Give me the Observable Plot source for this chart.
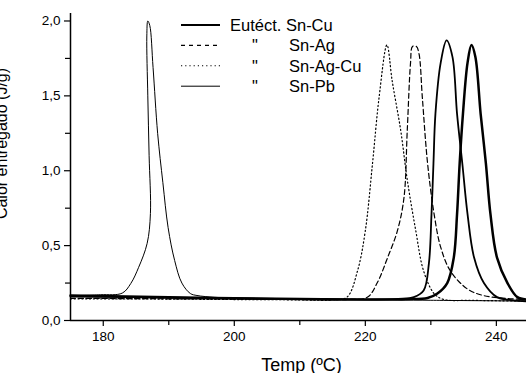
<!DOCTYPE html>
<html><head><meta charset="utf-8">
<script src="https://cdn.jsdelivr.net/npm/d3@7"></script>
<script src="https://cdn.jsdelivr.net/npm/@observablehq/plot@0.6"></script>
<style>body{margin:0;background:#fff} svg{display:block}</style>
</head><body><div id="chart"></div>
<script>
const xTicksMajor = [180, 200, 220, 240];
const xTicksMinor = [190, 210, 230];
const yTicksMajor = [0, 0.5, 1, 1.5, 2];
const yTicksMinor = [0.25, 0.75, 1.25, 1.75];

// Eutéct. Sn-Cu (thick)
const snCuT = [175, 190, 200, 210, 220, 226.4, 229.5, 231, 232.5, 233.5, 234, 234.4, 234.9, 235.6, 236.2, 236.8, 237.6, 238.4, 239.1, 240.1, 241.7, 243.2, 244.6];
const snCuV = [0.167, 0.155, 0.148, 0.143, 0.14, 0.142, 0.15, 0.18, 0.25, 0.42, 0.71, 1.05, 1.38, 1.72, 1.84, 1.76, 1.38, 1.05, 0.71, 0.42, 0.25, 0.156, 0.14];
// second solid curve (medium)
const snCu2T = [175, 190, 200, 210, 220, 225, 227.4, 228.9, 229.7, 230.1, 230.4, 230.7, 231.5, 232.4, 233.3, 234.0, 234.8, 235.6, 236.6, 238.1, 240.1, 242.6, 244.6];
const snCu2V = [0.16, 0.152, 0.147, 0.143, 0.14, 0.145, 0.156, 0.2, 0.38, 0.71, 1.05, 1.38, 1.72, 1.87, 1.76, 1.38, 1.05, 0.71, 0.42, 0.25, 0.156, 0.135, 0.128];
// Sn-Ag (dashed)
const snAgT = [175, 190, 200, 210, 217, 220.3, 221.8, 223.4, 224.9, 225.9, 226.4, 226.9, 227.2, 227.8, 228.2, 228.7, 229.5, 230.5, 231.5, 233, 235.6, 238, 241.7, 244.6];
const snAgV = [0.148, 0.145, 0.143, 0.14, 0.14, 0.155, 0.25, 0.42, 0.6, 0.82, 1.27, 1.72, 1.83, 1.83, 1.78, 1.49, 1.05, 0.71, 0.49, 0.33, 0.21, 0.167, 0.147, 0.14];
// Sn-Ag-Cu (dotted)
const snAgCuT = [175, 190, 200, 210, 215, 217.2, 218.8, 220.0, 221.1, 222.1, 223.3, 224.1, 225.4, 226.4, 227.7, 228.9, 230.5, 232.0, 236, 240, 244.6];
const snAgCuV = [0.145, 0.143, 0.14, 0.138, 0.137, 0.156, 0.33, 0.6, 1.05, 1.49, 1.84, 1.6, 1.27, 0.94, 0.6, 0.33, 0.18, 0.14, 0.135, 0.132, 0.13];
// Sn-Pb (thin)
const snPbT = [175, 179.6, 182.9, 184.2, 185.4, 186.7, 187.2, 187.0, 186.8, 186.65, 186.8, 187.1, 187.6, 188.3, 189.1, 189.9, 190.9, 192.0, 193.3, 194.3, 197, 200, 210, 220, 230, 244.6];
const snPbV = [0.165, 0.172, 0.183, 0.247, 0.355, 0.515, 0.715, 1.1, 1.5, 1.9, 2.0, 1.97, 1.69, 1.25, 0.92, 0.62, 0.40, 0.25, 0.18, 0.167, 0.155, 0.15, 0.145, 0.14, 0.135, 0.13];

const legendLabels = ["Eutéct. Sn-Cu", "Sn-Ag", "Sn-Ag-Cu", "Sn-Pb"];

const toRows = (T, V) => T.map((t, i) => ({t, v: V[i]}));
const font = "'Liberation Sans', Arial, Helvetica, sans-serif";

const svg = Plot.plot({
  width: 526, height: 373,
  marginLeft: 70, marginRight: 0, marginTop: 13, marginBottom: 53,
  x: {domain: [175, 244.6]},
  y: {domain: [0, 2.05]},
  style: {fontFamily: font, fontSize: "13.5px", color: "black", background: "white"},
  marks: [
    Plot.line(toRows(snPbT, snPbV), {x: "t", y: "v", stroke: "black", strokeWidth: 1, curve: "catmull-rom"}),
    Plot.line(toRows(snAgCuT, snAgCuV), {x: "t", y: "v", stroke: "black", strokeWidth: 1.2, strokeDasharray: "1.2,2.6", curve: "catmull-rom"}),
    Plot.line(toRows(snAgT, snAgV), {x: "t", y: "v", stroke: "black", strokeWidth: 1.2, strokeDasharray: "5,3", curve: "catmull-rom"}),
    Plot.line(toRows(snCu2T, snCu2V), {x: "t", y: "v", stroke: "black", strokeWidth: 1.8, curve: "catmull-rom"}),
    Plot.line(toRows(snCuT, snCuV), {x: "t", y: "v", stroke: "black", strokeWidth: 2.5, curve: "catmull-rom"}),
    Plot.axisX(xTicksMajor, {tickSize: 6, tickPadding: 5, tickFormat: d => String(d), label: null, strokeWidth: 1.2, fontSize: 13.5}),
    Plot.axisX(xTicksMinor, {tickSize: 5, tickFormat: () => "", label: null, strokeWidth: 1.2}),
    Plot.axisY(yTicksMajor, {tickSize: 6, tickPadding: 4, tickFormat: d => d.toFixed(1).replace(".", ","), label: null, strokeWidth: 1.2, fontSize: 13.5}),
    Plot.axisY(yTicksMinor, {tickSize: 5, tickFormat: () => "", label: null, strokeWidth: 1.2}),
    Plot.ruleX([175], {y1: 0, y2: 2.05, stroke: "black", strokeWidth: 1.5}),
    Plot.ruleY([0], {stroke: "black", strokeWidth: 1.5}),
    Plot.text(["Temp (ºC)"], {frameAnchor: "bottom", lineAnchor: "bottom", dy: 50, dx: 3, fontSize: 18, fill: "black"}),
    Plot.text(["Calor entregado (J/g)"], {frameAnchor: "left", textAnchor: "middle", lineAnchor: "middle", rotate: -90, dx: -69, dy: -23.5, fontSize: 16, fill: "black"})
  ]
});

// Legend
const g = d3.select(svg).append("g").attr("font-family", font).attr("font-size", 16.5)
  .attr("fill", "black").attr("text-anchor", "start");
const styles = [
  {w: 2, dash: null},
  {w: 1.1, dash: "4,4"},
  {w: 1.1, dash: "1.2,3"},
  {w: 1, dash: null}
];
legendLabels.forEach((lab, i) => {
  const ly = 25 + i * 20.4;
  const line = g.append("line").attr("x1", 181).attr("x2", 220).attr("y1", ly).attr("y2", ly)
    .attr("stroke", "black").attr("stroke-width", styles[i].w);
  if (styles[i].dash) line.attr("stroke-dasharray", styles[i].dash);
  if (i === 0) {
    g.append("text").attr("x", 230).attr("y", ly + 6).text(lab);
  } else {
    g.append("text").attr("x", 252).attr("y", ly + 6).text('"');
    g.append("text").attr("x", 289).attr("y", ly + 6).text(lab);
  }
});

document.getElementById("chart").appendChild(svg);
</script>
</body></html>
